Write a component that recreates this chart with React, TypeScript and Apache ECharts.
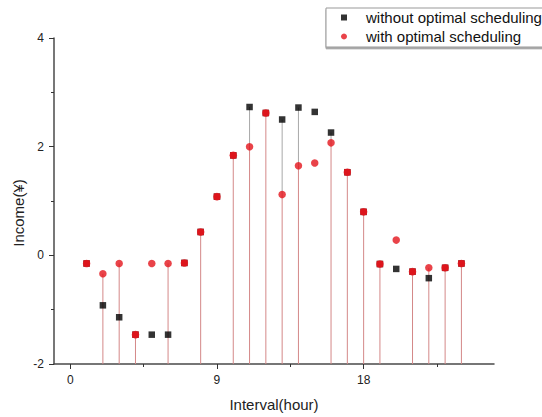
import React, { useEffect, useRef } from "react";
import * as echarts from "echarts";

const hours = [1, 2, 3, 4, 5, 6, 7, 8, 9, 10, 11, 12, 13, 14, 15, 16, 17, 18, 19, 20, 21, 22, 23, 24];
const withoutOpt = [-0.15, -0.92, -1.14, -1.46, -1.46, -1.46, -0.14, 0.43, 1.08, 1.84, 2.73, 2.62, 2.5, 2.72, 2.64, 2.26, 1.53, 0.8, -0.16, -0.25, -0.3, -0.42, -0.23, -0.15];
const withOpt = [-0.15, -0.34, -0.15, -1.46, -0.15, -0.15, -0.14, 0.43, 1.08, 1.84, 2.0, 2.62, 1.12, 1.65, 1.7, 2.07, 1.53, 0.8, -0.16, 0.28, -0.3, -0.23, -0.23, -0.15];
const stemHours = [2, 3, 4, 6, 8, 10, 11, 12, 13, 14, 16, 17, 18, 19, 21, 22, 23, 24];
const xTickLabels = [0, 9, 18];
const xMinorTicks = [4.5, 13.5, 22.5];
const seriesNames = ["without optimal scheduling", "with optimal scheduling"];
const xName = "Interval(hour)";
const yName = "Income(¥)";

const X_MIN = -1;
const X_MAX = 26;
const Y_MIN = -2;
const Y_MAX = 4;

export default function App() {
  const ref = useRef<HTMLDivElement>(null);
  useEffect(() => {
    if (!ref.current) return;
    const chart = echarts.init(ref.current, null, { renderer: "svg" });
    const font = "'Liberation Sans', Arial, sans-serif";
    const blackData = hours.map((h, i) => [h, withoutOpt[i]]);
    const redData = hours.map((h, i) => [h, withOpt[i]]);
    const overlapData = hours
      .map((h, i) => (withoutOpt[i] === withOpt[i] ? [h, withOpt[i]] : null))
      .filter((d) => d !== null);
    const stemData = stemHours.map((h) => {
      const i = hours.indexOf(h);
      return [h, withoutOpt[i], withOpt[i]];
    });
    const axisLine = { show: true, onZero: false, lineStyle: { color: "#4a4a4a", width: 1.5 } };
    chart.setOption({
      animation: false,
      backgroundColor: "#ffffff",
      textStyle: { fontFamily: font },
      grid: { left: 54, right: 48, top: 38, bottom: 51 },
      legend: {
        data: seriesNames,
        orient: "vertical",
        left: 326,
        top: 8,
        padding: [1, 10, 2, 15],
        itemWidth: 6,
        itemHeight: 6,
        itemGap: 2,
        borderColor: "#999",
        borderWidth: 1,
        backgroundColor: "#fff",
        shadowColor: "rgba(0,0,0,0.45)",
        shadowBlur: 0,
        shadowOffsetX: 0,
        shadowOffsetY: 1.5,
        textStyle: { fontSize: 15, color: "#111", fontFamily: font, lineHeight: 17, padding: [0, 0, 0, 14] },
      },
      xAxis: [
        {
          type: "value",
          min: X_MIN,
          max: X_MAX,
          name: xName,
          nameLocation: "middle",
          nameGap: 33,
          nameTextStyle: { fontSize: 15, color: "#222", fontFamily: font },
          splitLine: { show: false },
          axisLine,
          axisTick: { show: true, length: 5, customValues: xTickLabels, lineStyle: { color: "#333", width: 1 } },
          axisLabel: { customValues: xTickLabels, fontSize: 12, color: "#222", margin: 10, fontFamily: font },
        },
        {
          type: "value",
          min: X_MIN,
          max: X_MAX,
          position: "bottom",
          splitLine: { show: false },
          axisLine: { show: false, onZero: false },
          axisTick: { show: true, length: 3, customValues: xMinorTicks, lineStyle: { color: "#333", width: 1 } },
          axisLabel: { show: false },
        },
      ],
      yAxis: {
        type: "value",
        min: Y_MIN,
        max: Y_MAX,
        interval: 2,
        splitLine: { show: false },
        axisLine,
        axisTick: { show: true, length: 5, lineStyle: { color: "#333", width: 1 } },
        minorTick: { show: true, splitNumber: 2, length: 3, lineStyle: { color: "#333", width: 1 } },
        axisLabel: { fontSize: 12, color: "#222", margin: 10, fontFamily: font },
      },
      graphic: [
        {
          type: "text",
          x: 18,
          y: 213,
          rotation: Math.PI / 2,
          style: {
            text: yName,
            fontSize: 15,
            fill: "#222",
            fontFamily: font,
            textAlign: "center",
            textVerticalAlign: "middle",
          },
        },
      ],
      series: [
        {
          type: "custom",
          name: "stems",
          silent: true,
          z: 1,
          data: stemData,
          encode: { x: 0, y: [1, 2] },
          renderItem: (params: any, api: any) => {
            const x = api.value(0);
            const b = api.value(1);
            const r = api.value(2);
            const base = api.coord([x, Y_MIN]);
            const pr = api.coord([x, r]);
            const pb = api.coord([x, b]);
            const children: any[] = [
              {
                type: "line",
                shape: { x1: pr[0], y1: pr[1], x2: base[0], y2: base[1] },
                style: { stroke: "#d48888", lineWidth: 1 },
              },
            ];
            if (b > r) {
              children.push({
                type: "line",
                shape: { x1: pb[0], y1: pb[1], x2: pr[0], y2: pr[1] },
                style: { stroke: "#a8a8a8", lineWidth: 1 },
              });
            }
            return { type: "group", children };
          },
        },
        {
          type: "scatter",
          name: seriesNames[0],
          symbol: "rect",
          symbolSize: 6.5,
          z: 3,
          itemStyle: { color: "#000000" },
          data: blackData,
        },
        {
          type: "scatter",
          name: "overlap",
          symbol: "rect",
          symbolSize: 6.5,
          z: 4,
          silent: true,
          itemStyle: { color: "#e3141c" },
          data: overlapData,
        },
        {
          type: "scatter",
          name: seriesNames[1],
          symbol: "circle",
          symbolSize: 7.5,
          z: 5,
          itemStyle: { color: "#e3141c" },
          data: redData,
        },
      ],
    });
    return () => chart.dispose();
  }, []);
  return (
    <div
      ref={ref}
      style={{ position: "absolute", left: 0, top: 0, width: 542, height: 417 }}
    />
  );
}
